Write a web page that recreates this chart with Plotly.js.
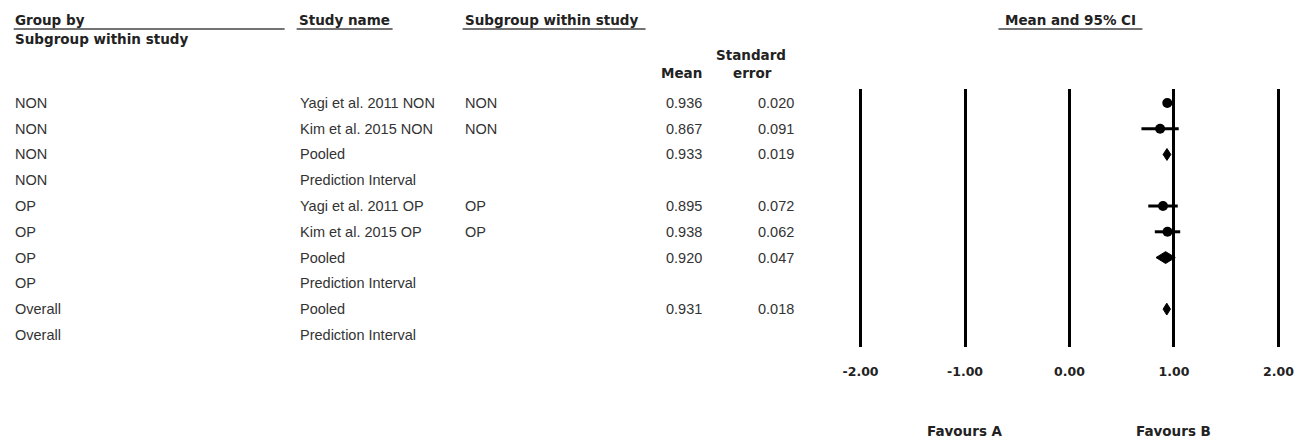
<!DOCTYPE html>
<html>
<head>
<meta charset="utf-8">
<script src="https://cdn.plot.ly/plotly-3.0.1.min.js"></script>
<style>html,body{margin:0;padding:0;background:#fff;}#chart{width:1307px;height:441px;}</style>
</head>
<body>
<div id="chart"></div>
<script>
// ---- data ----
const groups = ['NON','NON','NON','NON','OP','OP','OP','OP','Overall','Overall'];
const studies = ['Yagi et al. 2011 NON','Kim et al. 2015 NON','Pooled','Prediction Interval','Yagi et al. 2011 OP','Kim et al. 2015 OP','Pooled','Prediction Interval','Pooled','Prediction Interval'];
const subgroups = ['NON','NON','','','OP','OP','','','',''];
const means = [0.936, 0.867, 0.933, null, 0.895, 0.938, 0.920, null, 0.931, null];
const ses = [0.020, 0.091, 0.019, null, 0.072, 0.062, 0.047, null, 0.018, null];
const rowKind = ['study','study','pooled','pi','study','study','pooled','pi','pooled','pi'];
const tickVals = [-2, -1, 0, 1, 2];
const tickText = ['-2.00', '-1.00', '0.00', '1.00', '2.00'];
const favourLabels = ['Favours A', 'Favours B'];
const favourPos = [-1, 1];

// ---- layout geometry ----
const L = 847.5, R = 16.4, T = 89, B = 94;
const W = 1307 - L - R, H = 441 - T - B;
const px = x => (x - L) / W;
const py = y => 1 - (y - T) / H;
const Z = 1.96;

const rows = groups.map((_, i) => i + 1);

const traces = [];
// study points with CI
const sx = [], sy = [], se = [];
rows.forEach((r, i) => {
  if (rowKind[i] === 'study') { sx.push(means[i]); sy.push(r); se.push(Z * ses[i]); }
});
traces.push({
  type: 'scatter', mode: 'markers', x: sx, y: sy,
  marker: {symbol: 'circle', size: 10, color: '#000'},
  error_x: {type: 'data', array: se, visible: true, width: 0, thickness: 3, color: '#000'},
  hoverinfo: 'skip', showlegend: false
});
// pooled diamonds
rows.forEach((r, i) => {
  if (rowKind[i] !== 'pooled') return;
  const lo = means[i] - Z * ses[i], hi = means[i] + Z * ses[i], h = 0.23;
  traces.push({
    type: 'scatter', mode: 'lines', fill: 'toself', fillcolor: '#000',
    x: [lo, means[i], hi, means[i], lo], y: [r, r - h, r, r + h, r],
    line: {color: '#000', width: 1}, hoverinfo: 'skip', showlegend: false
  });
});

const dataFont = {family: 'Liberation Sans, Arial, sans-serif', size: 14.5, color: '#333'};
const headFont = {family: 'DejaVu Sans, Verdana, sans-serif', size: 13.5, color: '#222', weight: 'bold'};

const ann = [];
function txt(text, x, y, yref, font, xanchor) {
  ann.push({text: text, x: px(x), xref: 'paper', y: y, yref: yref, showarrow: false,
    xanchor: xanchor || 'left', yanchor: 'middle', font: font});
}
// headers
txt('Group by', 12, py(20), 'paper', headFont);
txt('Subgroup within study', 12, py(39), 'paper', headFont);
txt('Study name', 296, py(20), 'paper', headFont);
txt('Subgroup within study', 462, py(20), 'paper', headFont);
txt('Standard', 750, py(55), 'paper', headFont, 'center');
txt('Mean', 703, py(73), 'paper', headFont, 'right');
txt('error', 752, py(73), 'paper', headFont, 'center');
txt('Mean and 95% CI', 1070, py(20), 'paper', headFont, 'center');

// table rows
rows.forEach((r, i) => {
  txt(groups[i], 12, r, 'y', dataFont);
  txt(studies[i], 297, r, 'y', dataFont);
  if (subgroups[i]) txt(subgroups[i], 462, r, 'y', dataFont);
  if (means[i] !== null) txt(means[i].toFixed(3), 703, r, 'y', dataFont, 'right');
  if (ses[i] !== null) txt(ses[i].toFixed(3), 795, r, 'y', dataFont, 'right');
});

// favours labels
favourLabels.forEach((t, i) => {
  ann.push({text: t, x: favourPos[i], xref: 'x', y: py(431), yref: 'paper', showarrow: false,
    xanchor: 'center', yanchor: 'middle',
    font: {family: 'DejaVu Sans, Verdana, sans-serif', size: 13.5, color: '#222', weight: 'bold'}});
});

// underlines
const ul = [[13, 284], [296, 392], [462, 645], [998, 1142]];
const shapes = ul.map(u => ({type: 'line', xref: 'paper', yref: 'paper',
  x0: px(u[0]), x1: px(u[1]), y0: py(29), y1: py(29), line: {color: '#444', width: 1.6}}));

const layout = {
  width: 1307, height: 441,
  margin: {l: L, r: R, t: T, b: B, pad: 0},
  paper_bgcolor: '#fff', plot_bgcolor: '#fff',
  xaxis: {range: [-2.12, 2.12], tickvals: tickVals, ticktext: tickText,
    showgrid: true, gridcolor: '#000', gridwidth: 3, zeroline: false, showline: false,
    ticks: '', ticklabelstandoff: 15,
    tickfont: {family: 'DejaVu Sans, Verdana, sans-serif', size: 12.5, color: '#222', weight: 'bold'},
    fixedrange: true},
  yaxis: {range: [10.47, 0.46], showgrid: false, zeroline: false, showticklabels: false,
    showline: false, ticks: '', fixedrange: true},
  annotations: ann, shapes: shapes, showlegend: false
};

Plotly.newPlot('chart', traces, layout, {displayModeBar: false, staticPlot: true});
</script>
</body>
</html>
